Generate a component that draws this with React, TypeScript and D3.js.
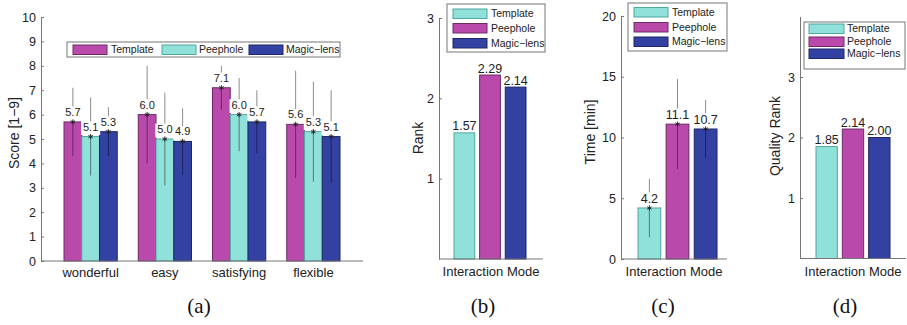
import React, { useEffect, useRef } from 'react';
import * as d3 from 'd3';

// panel (a): questionnaire scores
const questions = ['wonderful', 'easy', 'satisfying', 'flexible'];
const modes = ['Template', 'Peephole', 'Magic−lens'];
const templateScores = [5.7, 6.0, 7.1, 5.6];
const peepholeScores = [5.1, 5.0, 6.0, 5.3];
const magicScores = [5.3, 4.9, 5.7, 5.1];
const templateScoreErr = [1.4, 2.0, 0.9, 2.2];
const peepholeScoreErr = [1.6, 1.9, 1.5, 2.05];
const magicScoreErr = [1.0, 1.35, 1.3, 1.9];
const scoreTicks = [0, 1, 2, 3, 4, 5, 6, 7, 8, 9, 10];

// panels (b)-(d)
const rankValues = [1.57, 2.29, 2.14];
const timeValues = [4.2, 11.1, 10.7];
const timeErr = [2.4, 3.7, 2.4];
const qualityValues = [1.85, 2.14, 2.0];

const MAGENTA = '#b94aab';
const CYAN = '#8fe1d9';
const BLUE = '#3341a3';
const EDGE: Record<string, string> = { [MAGENTA]: '#6e2a66', [CYAN]: '#4ea89f', [BLUE]: '#1f2766' };

const FONT = '"Liberation Sans", Arial, sans-serif';

type Bar = { x: number; w: number; v: number; err?: number; label: string; fill: string };

const App: React.FC = () => {
  const svgRef = useRef<SVGSVGElement>(null);

  useEffect(() => {
    const svg = d3.select(svgRef.current);
    svg.selectAll('*').remove();

    const yAxis = (y: d3.ScaleLinear<number, number>, x0: number, ticks: number[]) => {
      const g = svg.append('g').attr('transform', `translate(${x0},0)`);
      g.call(d3.axisLeft(y).tickValues(ticks).tickSizeInner(-3).tickSizeOuter(0).tickPadding(5).tickFormat(d3.format('d')));
      g.select('.domain').attr('stroke', '#777');
      g.selectAll('.tick line').attr('stroke', '#777');
      g.selectAll('.tick text').attr('fill', '#222').style('font-family', FONT).style('font-size', '12.5px');
    };

    const xLine = (x0: number, x1: number, yPos: number) => {
      svg.append('line').attr('x1', x0).attr('x2', x1).attr('y1', yPos).attr('y2', yPos)
        .attr('stroke', '#777');
    };

    const yLabel = (text: string, x: number, yc: number, size: number) => {
      svg.append('text')
        .attr('transform', `translate(${x},${yc}) rotate(-90)`)
        .attr('text-anchor', 'middle')
        .attr('dy', '0.35em')
        .style('font-family', FONT).style('font-size', `${size}px`).attr('fill', '#222')
        .text(text);
    };

    const panelLabel = (text: string, x: number) => {
      svg.append('text').attr('x', x).attr('y', 313).attr('text-anchor', 'middle')
        .style('font-family', '"Liberation Serif", "Times New Roman", serif').style('font-size', '21px')
        .attr('fill', '#111').text(text);
    };

    const drawBars = (bars: Bar[], y: d3.ScaleLinear<number, number>, fontSize: number, gap: number) => {
      const g = svg.append('g');
      bars.forEach(b => {
        g.append('rect').attr('x', b.x).attr('y', y(b.v)).attr('width', b.w).attr('height', y(0) - y(b.v))
          .attr('fill', b.fill).attr('stroke', EDGE[b.fill]).attr('stroke-width', 1);
      });
      bars.forEach(b => {
        const cx = b.x + b.w / 2;
        const top = y(b.v);
        if (b.err !== undefined) {
          g.append('line').attr('x1', cx).attr('x2', cx).attr('y1', y(b.v + b.err)).attr('y2', y(b.v - b.err))
            .attr('stroke', '#000').attr('stroke-opacity', 0.45);
          // white box behind the label hides the whisker, as in the original
          const tw = b.label.length * fontSize * 0.52 + 2;
          g.append('rect').attr('x', cx - tw / 2).attr('y', top - gap - fontSize * 0.85)
            .attr('width', tw).attr('height', fontSize * 0.85 + gap - 1.5).attr('fill', '#fff');
        }
        g.append('text').attr('x', cx).attr('y', top - gap).attr('text-anchor', 'middle')
          .style('font-family', FONT).style('font-size', `${fontSize}px`).attr('fill', '#222')
          .text(b.label);
        if (b.err !== undefined) {
          const s = 2.6;
          const star = g.append('g').attr('transform', `translate(${cx},${top})`)
            .attr('stroke', '#222').attr('stroke-width', 0.9);
          [0, 60, 120].forEach(a => {
            const r = (a * Math.PI) / 180;
            star.append('line').attr('x1', -s * Math.sin(r)).attr('y1', -s * Math.cos(r))
              .attr('x2', s * Math.sin(r)).attr('y2', s * Math.cos(r));
          });
        }
      });
    };

    const legend = (x0: number, x1: number, y0: number, y1: number, colors: string[], rowsY: number[] | null,
      horizontal: { sx: number[]; tx: number[]; cy: number } | null, sw: number, sx: number, tx: number, fs: number) => {
      svg.append('rect').attr('x', x0).attr('y', y0).attr('width', x1 - x0).attr('height', y1 - y0)
        .attr('fill', '#fff').attr('stroke', '#777');
      modes.forEach((m, i) => {
        const cy = rowsY ? rowsY[i] : horizontal!.cy;
        const rx = rowsY ? sx : horizontal!.sx[i];
        const ttx = rowsY ? tx : horizontal!.tx[i];
        svg.append('rect').attr('x', rx).attr('y', cy - 4.5).attr('width', sw).attr('height', 9.5)
          .attr('fill', colors[i]).attr('stroke', EDGE[colors[i]]);
        svg.append('text').attr('x', ttx).attr('y', cy).attr('dy', '0.35em')
          .style('font-family', FONT).style('font-size', `${fs}px`).attr('fill', '#222').text(m);
      });
    };

    // ---------- (a) ----------
    const yA = d3.scaleLinear().domain([0, 10]).range([261, 17]);
    const xA = d3.scaleBand<string>().domain(questions).range([64, 340]).paddingInner(0.283);
    const xAi = d3.scaleBand<string>().domain(modes).range([0, xA.bandwidth()]);
    const aSeries = [
      { vals: templateScores, errs: templateScoreErr, color: MAGENTA },
      { vals: peepholeScores, errs: peepholeScoreErr, color: CYAN },
      { vals: magicScores, errs: magicScoreErr, color: BLUE },
    ];
    const aBars: Bar[] = [];
    questions.forEach((q, qi) => {
      aSeries.forEach((s, si) => {
        aBars.push({
          x: (xA(q) as number) + (xAi(modes[si]) as number), w: xAi.bandwidth(),
          v: s.vals[qi], err: s.errs[qi], label: s.vals[qi].toFixed(1), fill: s.color,
        });
      });
    });
    drawBars(aBars, yA, 11, 6);
    yAxis(yA, 41, scoreTicks);
    xLine(41, 363, yA(0));
    questions.forEach(q => {
      svg.append('text').attr('x', (xA(q) as number) + xA.bandwidth() / 2).attr('y', 277)
        .attr('text-anchor', 'middle').style('font-family', FONT).style('font-size', '13px')
        .attr('fill', '#222').text(q);
    });
    yLabel('Score [1−9]', 14, 133, 14);
    legend(67, 340, 42, 57, [MAGENTA, CYAN, BLUE], null,
      { sx: [73, 162, 249], tx: [111, 199, 286], cy: 49.5 }, 34, 0, 0, 10.5);
    panelLabel('(a)', 199);

    const smallColors = [CYAN, MAGENTA, BLUE];
    const smallPanel = (vals: number[], errs: number[] | null, y: d3.ScaleLinear<number, number>,
      ticks: number[], ax: number, axEnd: number, barRange: [number, number], digits: number, gap: number) => {
      const x = d3.scaleBand<string>().domain(modes).range(barRange).paddingInner(0.19);
      const bars: Bar[] = modes.map((m, i) => ({
        x: x(m) as number, w: x.bandwidth(), v: vals[i], err: errs ? errs[i] : undefined,
        label: vals[i].toFixed(digits), fill: smallColors[i],
      }));
      drawBars(bars, y, 12.5, gap);
      yAxis(y, ax, ticks);
      xLine(ax, axEnd, y(0));
      svg.append('text').attr('x', (ax + axEnd) / 2).attr('y', 276).attr('text-anchor', 'middle')
        .style('font-family', FONT).style('font-size', '13px').attr('fill', '#222').text('Interaction Mode');
    };

    // ---------- (b) ----------
    const yB = d3.scaleLinear().domain([0, 3]).range([259, 18]);
    smallPanel(rankValues, null, yB, [1, 2, 3], 439, 543, [454, 526], 2, 2.5);
    yLabel('Rank', 418, 138, 14);
    legend(447, 545, 4, 52, smallColors, [13.5, 28, 43], null, 34, 453, 491, 10.5);
    panelLabel('(b)', 483);

    // ---------- (c) ----------
    const yC = d3.scaleLinear().domain([0, 20]).range([259, 16]);
    smallPanel(timeValues, timeErr, yC, [0, 5, 10, 15, 20], 621, 727, [638, 717], 1, 5);
    yLabel('Time [min]', 590, 132, 14);
    legend(628, 727, 3, 51, smallColors, [12, 27, 41.5], null, 34, 634, 672, 10.5);
    panelLabel('(c)', 663);

    // ---------- (d) ----------
    const yD = d3.scaleLinear().domain([0, 4]).range([258.5, 16.5]);
    smallPanel(qualityValues, null, yD, [1, 2, 3], 800, 906, [816, 890], 2, 2.5);
    yLabel('Quality Rank', 775, 136, 14);
    legend(804, 905, 22, 69, smallColors, [28.5, 41.5, 53.5], null, 35, 809, 847, 10.5);
    panelLabel('(d)', 845);
  }, []);

  return (
    <svg ref={svgRef} width={907} height={325}
      style={{ position: 'absolute', left: 0, top: 0, background: '#fff' }} />
  );
};

export default App;
